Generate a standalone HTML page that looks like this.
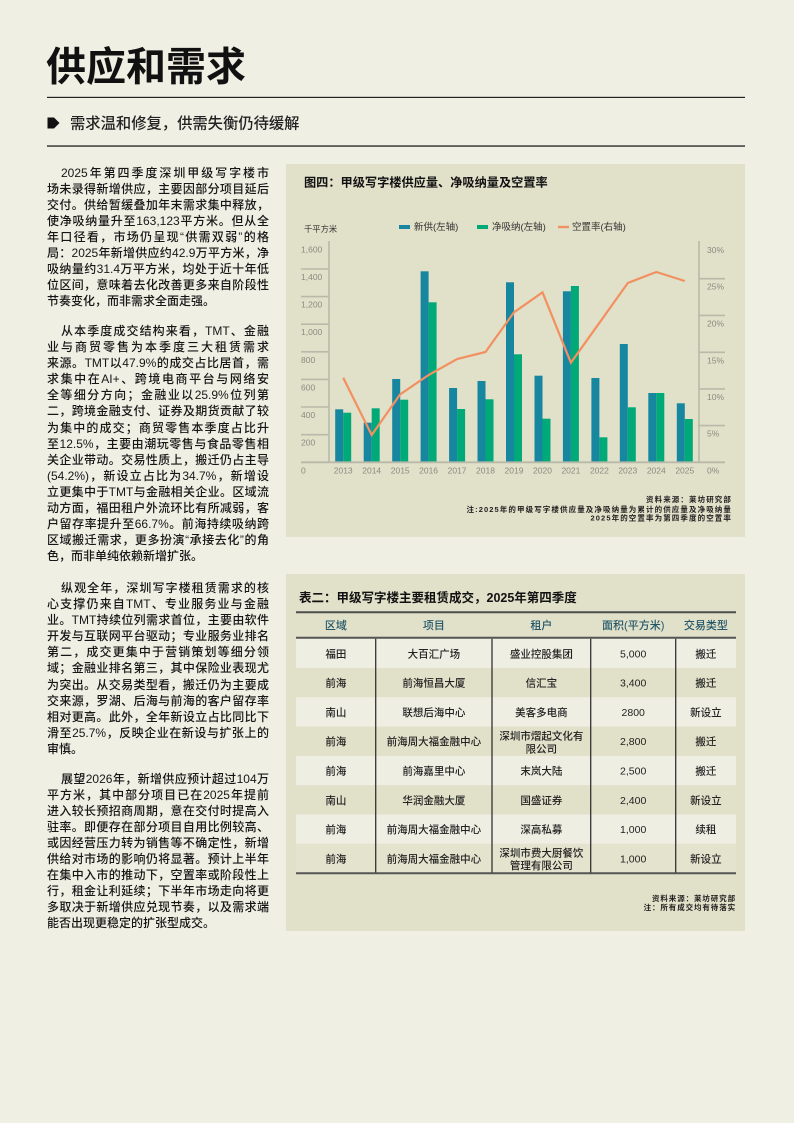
<!DOCTYPE html>
<html lang="zh">
<head>
<meta charset="utf-8">
<style>
  html,body{margin:0;padding:0;}
  body{width:794px;height:1123px;background:#f0efe4;position:relative;overflow:hidden;
       font-family:"Liberation Sans","Noto Sans CJK SC",sans-serif;}
  svg{position:absolute;left:0;top:0;}
  .p{position:absolute;left:47px;width:222px;font-size:12px;line-height:16.1px;color:#161616;font-weight:500;
     font-family:"Liberation Sans","Noto Sans CJK SC",sans-serif;}
  .p div{text-align:justify;text-align-last:justify;height:16.1px;}
  .p div.l{text-align-last:left;}
  .p div.i{padding-left:14px;}
</style>
</head>
<body>
<svg width="794" height="1123" viewBox="0 0 794 1123" xmlns="http://www.w3.org/2000/svg" font-family="Liberation Sans, Noto Sans CJK SC, sans-serif">
  <!-- Header -->
  <text x="46" y="80.7" font-size="40" font-weight="bold" fill="#111">供应和需求</text>
  <rect x="47" y="96.8" width="698" height="1.2" fill="#222"/>
  <polygon points="47.5,117.5 54,117.5 59.5,123 54,128.5 47.5,128.5" fill="#111"/>
  <text x="70" y="128.4" font-size="15.3" font-weight="500" fill="#222">需求温和修复，供需失衡仍待缓解</text>
  <rect x="47" y="145.3" width="698" height="1.5" fill="#3a3a3a"/>

  <!-- Chart panel -->
  <rect x="286" y="164" width="459" height="373" fill="#e1e0c9"/>
  <text x="304" y="186.3" font-size="12.2" font-weight="bold" fill="#111">图四：甲级写字楼供应量、净吸纳量及空置率</text>
  <text x="304" y="232" font-size="8.3" fill="#333">千平方米</text>

  <!-- legend -->
  <rect x="399" y="225" width="11" height="4" fill="#17869f"/>
  <text x="414" y="230.2" font-size="9.5" fill="#333">新供(左轴)</text>
  <rect x="477" y="225" width="11" height="4" fill="#00aa78"/>
  <text x="492" y="230.2" font-size="9.5" fill="#333">净吸纳(左轴)</text>
  <rect x="558" y="225.8" width="11" height="2.4" fill="#f39062"/>
  <text x="572" y="230.2" font-size="9.5" fill="#333">空置率(右轴)</text>

  <!-- axes -->
  <g stroke="#b9b9aa" stroke-width="1.6">
    <line x1="301" y1="434.7" x2="329" y2="434.7"/>
    <line x1="301" y1="407.0" x2="329" y2="407.0"/>
    <line x1="301" y1="379.4" x2="329" y2="379.4"/>
    <line x1="301" y1="351.8" x2="329" y2="351.8"/>
    <line x1="301" y1="324.2" x2="329" y2="324.2"/>
    <line x1="301" y1="296.6" x2="329" y2="296.6"/>
    <line x1="301" y1="269.0" x2="329" y2="269.0"/>
    <line x1="699" y1="425.6" x2="725" y2="425.6"/>
    <line x1="699" y1="388.9" x2="725" y2="388.9"/>
    <line x1="699" y1="352.3" x2="725" y2="352.3"/>
    <line x1="699" y1="315.4" x2="725" y2="315.4"/>
    <line x1="699" y1="278.7" x2="725" y2="278.7"/>
    <line x1="329" y1="241" x2="329" y2="462.3"/>
    <line x1="699" y1="241" x2="699" y2="462.3"/>
  </g>

  <!-- bars: new supply -->
  <g fill="#17869f">
    <rect x="335.2" y="409.3" width="8" height="53.0"/>
    <rect x="363.7" y="422.7" width="8" height="39.6"/>
    <rect x="392.2" y="379.0" width="8" height="83.3"/>
    <rect x="420.6" y="271.3" width="8" height="191.0"/>
    <rect x="449.1" y="388.0" width="8" height="74.3"/>
    <rect x="477.5" y="381.0" width="8" height="81.3"/>
    <rect x="506.0" y="282.3" width="8" height="180.0"/>
    <rect x="534.5" y="375.7" width="8" height="86.6"/>
    <rect x="562.9" y="291.3" width="8" height="171.0"/>
    <rect x="591.4" y="378.0" width="8" height="84.3"/>
    <rect x="619.8" y="344.0" width="8" height="118.3"/>
    <rect x="648.3" y="393.0" width="8" height="69.3"/>
    <rect x="676.8" y="403.3" width="8" height="59.0"/>
  </g>
  <!-- bars: net absorption -->
  <g fill="#00aa78">
    <rect x="343.2" y="412.7" width="8" height="49.6"/>
    <rect x="371.7" y="408.3" width="8" height="54.0"/>
    <rect x="400.2" y="399.7" width="8" height="62.6"/>
    <rect x="428.6" y="302.3" width="8" height="160.0"/>
    <rect x="457.1" y="409.0" width="8" height="53.3"/>
    <rect x="485.5" y="399.3" width="8" height="63.0"/>
    <rect x="514.0" y="354.3" width="8" height="108.0"/>
    <rect x="542.5" y="418.7" width="8" height="43.6"/>
    <rect x="570.9" y="286.0" width="8" height="176.3"/>
    <rect x="599.4" y="437.3" width="8" height="25.0"/>
    <rect x="627.8" y="407.3" width="8" height="55.0"/>
    <rect x="656.3" y="393.0" width="8" height="69.3"/>
    <rect x="684.8" y="419.0" width="8" height="43.3"/>
  </g>

  <line x1="301" y1="462.3" x2="725" y2="462.3" stroke="#b9b9aa" stroke-width="1.8"/>

  <!-- vacancy line -->
  <polyline fill="none" stroke="#f39062" stroke-width="2.2" stroke-linejoin="miter"
    points="343.2,377.7 371.7,435 400.2,394.3 428.6,375 457.1,359 485.5,352 514,312.3 542.5,292.3 570.9,362.7 599.4,322.8 627.8,283 656.3,272 684.8,281"/>

  <!-- left labels -->
  <g font-size="8.5" fill="#8a8a82">
    <text x="301" y="252.3">1,600</text>
    <text x="301" y="280.0">1,400</text>
    <text x="301" y="307.6">1,200</text>
    <text x="301" y="335.2">1,000</text>
    <text x="301" y="362.8">800</text>
    <text x="301" y="390.4">600</text>
    <text x="301" y="418.0">400</text>
    <text x="301" y="445.7">200</text>
    <text x="301" y="473.3">0</text>
  </g>
  <!-- right labels -->
  <g font-size="8.5" fill="#8a8a82">
    <text x="707" y="253.0">30%</text>
    <text x="707" y="289.7">25%</text>
    <text x="707" y="326.4">20%</text>
    <text x="707" y="363.3">15%</text>
    <text x="707" y="399.9">10%</text>
    <text x="707" y="436.6">5%</text>
    <text x="707" y="473.3">0%</text>
  </g>
  <!-- year labels -->
  <g font-size="8.5" fill="#8a8a82" text-anchor="middle">
    <text x="343.2" y="473.3">2013</text>
    <text x="371.7" y="473.3">2014</text>
    <text x="400.2" y="473.3">2015</text>
    <text x="428.6" y="473.3">2016</text>
    <text x="457.1" y="473.3">2017</text>
    <text x="485.5" y="473.3">2018</text>
    <text x="514.0" y="473.3">2019</text>
    <text x="542.5" y="473.3">2020</text>
    <text x="570.9" y="473.3">2021</text>
    <text x="599.4" y="473.3">2022</text>
    <text x="627.8" y="473.3">2023</text>
    <text x="656.3" y="473.3">2024</text>
    <text x="684.8" y="473.3">2025</text>
  </g>

  <!-- chart source -->
  <g font-size="7.5" font-weight="bold" fill="#222" text-anchor="end" letter-spacing="1.1">
    <text x="732" y="502.2">资料来源：莱坊研究部</text>
    <text x="732" y="511.8">注:2025年的甲级写字楼供应量及净吸纳量为累计的供应量及净吸纳量</text>
    <text x="732" y="520.6">2025年的空置率为第四季度的空置率</text>
  </g>

  <!-- Table panel -->
  <rect x="286" y="574" width="459" height="357" fill="#e1e0c9"/>
  <text x="299" y="602.2" font-size="12.5" font-weight="bold" fill="#111">表二：甲级写字楼主要租赁成交，2025年第四季度</text>

  <!-- row backgrounds -->
  <g fill="#efeee3">
    <rect x="296" y="638.7" width="440" height="29.3"/>
    <rect x="296" y="697.3" width="440" height="29.3"/>
    <rect x="296" y="755.9" width="440" height="29.3"/>
    <rect x="296" y="814.5" width="440" height="29.3"/>
  </g>
  <rect x="296" y="843.8" width="440" height="29.3" fill="#e4e3cd"/>

  <line x1="296" y1="612.3" x2="736" y2="612.3" stroke="#4d4d4d" stroke-width="2"/>
  <line x1="296" y1="637.7" x2="736" y2="637.7" stroke="#555" stroke-width="2"/>
  <line x1="296" y1="873.2" x2="736" y2="873.2" stroke="#555" stroke-width="2"/>
  <g stroke="#333" stroke-width="1.3">
    <line x1="375.7" y1="638.7" x2="375.7" y2="872.5"/>
    <line x1="492" y1="638.7" x2="492" y2="872.5"/>
    <line x1="590.7" y1="638.7" x2="590.7" y2="872.5"/>
    <line x1="675.7" y1="638.7" x2="675.7" y2="872.5"/>
  </g>

  <!-- header text -->
  <g font-size="11" font-weight="500" fill="#245769" text-anchor="middle">
    <text x="335.9" y="629.2">区域</text>
    <text x="433.9" y="629.2">项目</text>
    <text x="541.4" y="629.2">租户</text>
    <text x="633.2" y="629.2">面积(平方米)</text>
    <text x="705.9" y="629.2">交易类型</text>
  </g>

  <!-- rows -->
  <g font-size="10.5" font-weight="500" fill="#222" text-anchor="middle">
    <text x="335.9" y="657.3">福田</text><text x="433.9" y="657.3">大百汇广场</text><text x="541.4" y="657.3">盛业控股集团</text><text x="633.2" y="657.3">5,000</text><text x="705.9" y="657.3">搬迁</text>
    <text x="335.9" y="686.6">前海</text><text x="433.9" y="686.6">前海恒昌大厦</text><text x="541.4" y="686.6">信汇宝</text><text x="633.2" y="686.6">3,400</text><text x="705.9" y="686.6">搬迁</text>
    <text x="335.9" y="715.9">南山</text><text x="433.9" y="715.9">联想后海中心</text><text x="541.4" y="715.9">美客多电商</text><text x="633.2" y="715.9">2800</text><text x="705.9" y="715.9">新设立</text>
    <text x="335.9" y="745.2">前海</text><text x="433.9" y="745.2">前海周大福金融中心</text><text x="541.4" y="739.6">深圳市熠起文化有</text><text x="541.4" y="752.3">限公司</text><text x="633.2" y="745.2">2,800</text><text x="705.9" y="745.2">搬迁</text>
    <text x="335.9" y="774.5">前海</text><text x="433.9" y="774.5">前海嘉里中心</text><text x="541.4" y="774.5">末岚大陆</text><text x="633.2" y="774.5">2,500</text><text x="705.9" y="774.5">搬迁</text>
    <text x="335.9" y="803.8">南山</text><text x="433.9" y="803.8">华润金融大厦</text><text x="541.4" y="803.8">国盛证券</text><text x="633.2" y="803.8">2,400</text><text x="705.9" y="803.8">新设立</text>
    <text x="335.9" y="833.1">前海</text><text x="433.9" y="833.1">前海周大福金融中心</text><text x="541.4" y="833.1">深高私募</text><text x="633.2" y="833.1">1,000</text><text x="705.9" y="833.1">续租</text>
    <text x="335.9" y="862.4">前海</text><text x="433.9" y="862.4">前海周大福金融中心</text><text x="541.4" y="856.3">深圳市费大厨餐饮</text><text x="541.4" y="869.0">管理有限公司</text><text x="633.2" y="862.4">1,000</text><text x="705.9" y="862.4">新设立</text>
  </g>

  <!-- table source -->
  <g font-size="7.5" font-weight="bold" fill="#222" text-anchor="end" letter-spacing="0.9">
    <text x="736" y="901.2">资料来源：莱坊研究部</text>
    <text x="736" y="910.2">注：所有成交均有待落实</text>
  </g>
</svg>

<div class="p" style="top:164.6px">
  <div class="i">2025年第四季度深圳甲级写字楼市</div>
  <div>场未录得新增供应，主要因部分项目延后</div>
  <div>交付。供给暂缓叠加年末需求集中释放，</div>
  <div>使净吸纳量升至163,123平方米。但从全</div>
  <div>年口径看，市场仍呈现“供需双弱”的格</div>
  <div>局：2025年新增供应约42.9万平方米，净</div>
  <div>吸纳量约31.4万平方米，均处于近十年低</div>
  <div>位区间，意味着去化改善更多来自阶段性</div>
  <div class="l">节奏变化，而非需求全面走强。</div>
</div>

<div class="p" style="top:323px">
  <div class="i">从本季度成交结构来看，TMT、金融</div>
  <div>业与商贸零售为本季度三大租赁需求</div>
  <div>来源。TMT以47.9%的成交占比居首，需</div>
  <div>求集中在AI+、跨境电商平台与网络安</div>
  <div>全等细分方向；金融业以25.9%位列第</div>
  <div>二，跨境金融支付、证券及期货贡献了较</div>
  <div>为集中的成交；商贸零售本季度占比升</div>
  <div>至12.5%，主要由潮玩零售与食品零售相</div>
  <div>关企业带动。交易性质上，搬迁仍占主导</div>
  <div>(54.2%)，新设立占比为34.7%，新增设</div>
  <div>立更集中于TMT与金融相关企业。区域流</div>
  <div>动方面，福田租户外流环比有所减弱，客</div>
  <div>户留存率提升至66.7%。前海持续吸纳跨</div>
  <div>区域搬迁需求，更多扮演“承接去化”的角</div>
  <div class="l">色，而非单纯依赖新增扩张。</div>
</div>

<div class="p" style="top:580px">
  <div class="i">纵观全年，深圳写字楼租赁需求的核</div>
  <div>心支撑仍来自TMT、专业服务业与金融</div>
  <div>业。TMT持续位列需求首位，主要由软件</div>
  <div>开发与互联网平台驱动；专业服务业排名</div>
  <div>第二，成交更集中于营销策划等细分领</div>
  <div>域；金融业排名第三，其中保险业表现尤</div>
  <div>为突出。从交易类型看，搬迁仍为主要成</div>
  <div>交来源，罗湖、后海与前海的客户留存率</div>
  <div>相对更高。此外，全年新设立占比同比下</div>
  <div>滑至25.7%，反映企业在新设与扩张上的</div>
  <div class="l">审慎。</div>
</div>

<div class="p" style="top:770.6px">
  <div class="i">展望2026年，新增供应预计超过104万</div>
  <div>平方米，其中部分项目已在2025年提前</div>
  <div>进入较长预招商周期，意在交付时提高入</div>
  <div>驻率。即便存在部分项目自用比例较高、</div>
  <div>或因经营压力转为销售等不确定性，新增</div>
  <div>供给对市场的影响仍将显著。预计上半年</div>
  <div>在集中入市的推动下，空置率或阶段性上</div>
  <div>行，租金让利延续；下半年市场走向将更</div>
  <div>多取决于新增供应兑现节奏，以及需求端</div>
  <div class="l">能否出现更稳定的扩张型成交。</div>
</div>
</body>
</html>
